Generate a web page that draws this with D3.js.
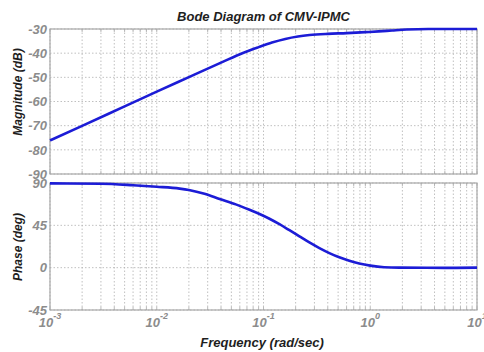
<!DOCTYPE html>
<html>
<head>
<meta charset="utf-8">
<script src="https://cdn.jsdelivr.net/npm/d3@7"></script>
<style>
  html, body { margin: 0; padding: 0; background: #fff; }
  svg { display: block; }
  text { font-family: "Liberation Sans", Arial, sans-serif; font-weight: bold; font-style: italic; }
</style>
</head>
<body>
<svg id="chart" width="484" height="352"></svg>
<script>
// Frequency response of the CMV-IPMC model (rad/sec)
const magFreq = [0.001, 0.002, 0.005, 0.01, 0.02, 0.04, 0.065, 0.09, 0.12, 0.16, 0.21, 0.27, 0.4, 0.6, 0.9, 1.2, 1.6, 2.2, 3.5, 6, 10];
const magDb   = [-76.1, -70.1, -62.0, -55.9, -49.9, -43.9, -39.8, -37.5, -35.6, -34.1, -33.1, -32.5, -32.0, -31.7, -31.3, -31.0, -30.6, -30.2, -30.0, -30.0, -30.0];

const phaseFreq = [0.001, 0.003, 0.006, 0.01, 0.0164, 0.02, 0.028, 0.0388, 0.055, 0.074, 0.0918, 0.1137, 0.141, 0.175, 0.217, 0.269, 0.334, 0.414, 0.513, 0.637, 0.789, 1.0, 1.35, 1.87, 5, 10];
const phaseDeg  = [89.6, 89.2, 87.6, 86, 84, 82.5, 78.5, 73, 67.3, 61.5, 57, 52, 46.2, 39.8, 33.3, 26.8, 20.8, 15.5, 11, 7.3, 4.4, 2.2, 0.5, 0, -0.2, 0];

const magTicks = [-30, -40, -50, -60, -70, -80, -90];
const phaseTicks = [90, 45, 0, -45];
const decadeExps = [-3, -2, -1, 0, 1];

const title = "Bode Diagram of CMV-IPMC";
const magLabel = "Magnitude (dB)";
const phaseLabel = "Phase (deg)";
const freqLabel = "Frequency  (rad/sec)";

const svg = d3.select("#chart");
const left = 50, right = 477;

const x = d3.scaleLog().domain([1e-3, 10]).range([left, right]);
const yMag = d3.scaleLinear().domain([-90, -30]).range([174, 29]);
const yPh = d3.scaleLinear().domain([-45, 90]).range([310, 183]);

const gridColor = "#b0b0b0";
const boxColor = "#a8a8a8";
const tickText = "#8c8c8c";

// every 1..9 multiple of each decade, for minor grid lines
const minorFreqs = [];
for (let e = -3; e < 1; e++) {
  for (let m = 1; m <= 9; m++) minorFreqs.push(m * Math.pow(10, e));
}
minorFreqs.push(10);

function panel(y, ticks) {
  const [y0, y1] = [y.range()[1], y.range()[0]];
  const g = svg.append("g");
  // vertical grid
  g.selectAll(".vg").data(minorFreqs).join("line")
    .attr("x1", d => x(d)).attr("x2", d => x(d))
    .attr("y1", y0).attr("y2", y1)
    .attr("stroke", gridColor).attr("stroke-width", 0.8)
    .attr("stroke-dasharray", "1.5,2");
  // horizontal grid
  g.selectAll(".hg").data(ticks).join("line")
    .attr("x1", left).attr("x2", right)
    .attr("y1", d => y(d)).attr("y2", d => y(d))
    .attr("stroke", gridColor).attr("stroke-width", 0.8)
    .attr("stroke-dasharray", "1.5,2");
  // inner tick marks along top and bottom
  g.selectAll(".tb").data(minorFreqs).join("line")
    .attr("x1", d => x(d)).attr("x2", d => x(d))
    .attr("y1", y1).attr("y2", y1 - 3)
    .attr("stroke", boxColor).attr("stroke-width", 0.8);
  g.selectAll(".tt").data(minorFreqs).join("line")
    .attr("x1", d => x(d)).attr("x2", d => x(d))
    .attr("y1", y0).attr("y2", y0 + 3)
    .attr("stroke", boxColor).attr("stroke-width", 0.8);
  // box
  g.append("rect")
    .attr("x", left).attr("y", y0)
    .attr("width", right - left).attr("height", y1 - y0)
    .attr("fill", "none").attr("stroke", boxColor).attr("stroke-width", 1.2);
  // y tick labels
  g.selectAll(".yl").data(ticks).join("text")
    .attr("x", left - 3).attr("y", d => y(d))
    .attr("dy", "0.36em")
    .attr("text-anchor", "end")
    .attr("font-size", 13)
    .attr("fill", tickText)
    .text(d => d);
  return g;
}

panel(yMag, magTicks);
panel(yPh, phaseTicks);

// curves
const line = (yScale) => d3.line()
  .x(d => x(d[0])).y(d => yScale(d[1]))
  .curve(d3.curveMonotoneX);

svg.append("path")
  .datum(magFreq.map((f, i) => [f, magDb[i]]))
  .attr("d", line(yMag))
  .attr("fill", "none").attr("stroke", "#1c1cd6").attr("stroke-width", 2.6)
  .attr("stroke-linejoin", "round");

svg.append("path")
  .datum(phaseFreq.map((f, i) => [f, phaseDeg[i]]))
  .attr("d", line(yPh))
  .attr("fill", "none").attr("stroke", "#1c1cd6").attr("stroke-width", 2.6)
  .attr("stroke-linejoin", "round");

// x tick labels: 10^e
const xl = svg.selectAll(".xl").data(decadeExps).join("text")
  .attr("x", d => x(Math.pow(10, d)))
  .attr("y", 327)
  .attr("text-anchor", "middle")
  .attr("font-size", 13)
  .attr("fill", tickText);
xl.append("tspan").text("10");
xl.append("tspan").attr("dy", -8).attr("font-size", 9).text(d => d);

// titles
svg.append("text")
  .attr("x", (left + right) / 2).attr("y", 21)
  .attr("text-anchor", "middle")
  .attr("font-size", 13).attr("fill", "#1e1e1e")
  .text(title);

svg.append("text")
  .attr("transform", "translate(22,92) rotate(-90)")
  .attr("text-anchor", "middle")
  .attr("font-size", 12).attr("fill", "#1e1e1e")
  .text(magLabel);

svg.append("text")
  .attr("transform", "translate(22,247) rotate(-90)")
  .attr("text-anchor", "middle")
  .attr("font-size", 12).attr("fill", "#1e1e1e")
  .text(phaseLabel);

svg.append("text")
  .attr("x", 262).attr("y", 347)
  .attr("text-anchor", "middle")
  .attr("font-size", 13).attr("fill", "#1e1e1e")
  .text(freqLabel);
</script>
</body>
</html>
